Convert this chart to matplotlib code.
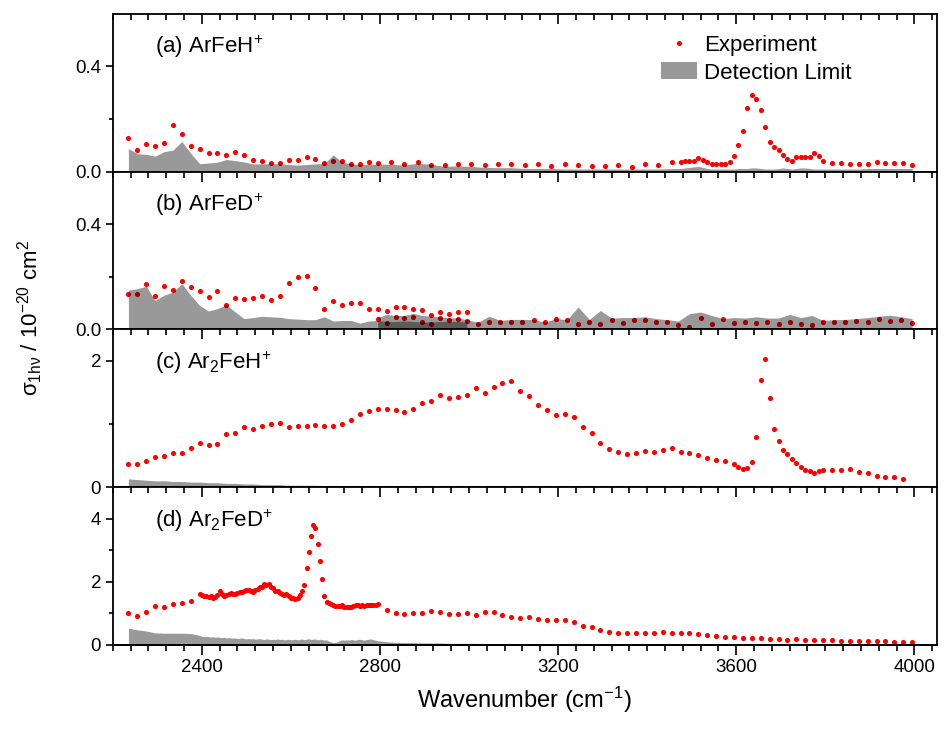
import numpy as np
import matplotlib
matplotlib.use("Agg")
import matplotlib.pyplot as plt
from matplotlib.ticker import MultipleLocator, FixedLocator
from matplotlib.lines import Line2D
from matplotlib.patches import Patch

plt.rcParams['font.family'] = ['Liberation Sans', 'DejaVu Sans']
plt.rcParams['mathtext.fontset'] = 'custom'
plt.rcParams['mathtext.rm'] = 'Liberation Sans'
plt.rcParams['mathtext.it'] = 'Liberation Sans'

# ---------------- (a) ArFeH+ ----------------
a_wn = np.concatenate([np.arange(2235, 2796, 20), np.arange(2825, 3126, 30),
                       np.arange(3155, 3456, 30), np.arange(3475, 3786, 10),
                       np.arange(3795, 3996, 20)])
a_exp = [0.128, 0.081, 0.107, 0.096, 0.109, 0.178, 0.142, 0.096, 0.086, 0.071,
         0.070, 0.064, 0.076, 0.062, 0.046, 0.039, 0.034, 0.033, 0.046, 0.046,
         0.057, 0.048, 0.032, 0.042, 0.041, 0.028, 0.030, 0.037, 0.032,
         0.036, 0.028, 0.037, 0.027, 0.027, 0.028, 0.030, 0.025, 0.029, 0.028, 0.025,
         0.030, 0.023, 0.029, 0.027, 0.020, 0.020, 0.027, 0.019, 0.028, 0.025, 0.036,
         0.036, 0.041, 0.041, 0.042, 0.053, 0.046, 0.037, 0.028, 0.028, 0.028,
         0.029, 0.038, 0.061, 0.100, 0.156, 0.241, 0.291, 0.277, 0.236, 0.168,
         0.112, 0.095, 0.083, 0.064, 0.048, 0.042, 0.057, 0.057, 0.057, 0.057,
         0.072, 0.060,
         0.042, 0.032, 0.034, 0.030, 0.030, 0.029, 0.036, 0.034, 0.034, 0.034, 0.025]
a_dl = [0.088, 0.068, 0.066, 0.059, 0.076, 0.082, 0.115, 0.070, 0.030, 0.033,
        0.036, 0.046, 0.042, 0.037, 0.029, 0.030, 0.030, 0.030, 0.027, 0.025,
        0.027, 0.030, 0.030, 0.064, 0.036, 0.030, 0.027, 0.028, 0.029,
        0.028, 0.025, 0.032, 0.028, 0.020, 0.022, 0.020, 0.016, 0.015, 0.015, 0.012,
        0.012, 0.012, 0.010, 0.010, 0.010, 0.010, 0.010, 0.010, 0.010, 0.010, 0.012,
        0.012, 0.014, 0.016, 0.018, 0.020, 0.016, 0.012, 0.010, 0.010, 0.010,
        0.010, 0.010, 0.010, 0.012, 0.012, 0.012, 0.014, 0.014, 0.012, 0.010,
        0.010, 0.010, 0.012, 0.014, 0.012, 0.010, 0.012, 0.014, 0.014, 0.012,
        0.010, 0.010,
        0.010, 0.010, 0.010, 0.010, 0.010, 0.012, 0.012, 0.012, 0.012, 0.012, 0.012]

# ---------------- (b) ArFeD+ ----------------
b1_wn = np.arange(2235, 2996, 20)
b1_exp = [0.136, 0.133, 0.174, 0.126, 0.165, 0.149, 0.183, 0.161, 0.146, 0.123,
          0.146, 0.094, 0.119, 0.116, 0.121, 0.126, 0.110, 0.128, 0.175, 0.199,
          0.202, 0.156, 0.077, 0.107, 0.094, 0.100, 0.101, 0.077, 0.077, 0.071,
          0.084, 0.086, 0.079, 0.072, 0.056, 0.067, 0.057, 0.067, 0.065]
b1_dl = [0.149, 0.155, 0.164, 0.110, 0.130, 0.142, 0.174, 0.130, 0.091, 0.070,
         0.079, 0.094, 0.066, 0.041, 0.045, 0.050, 0.048, 0.046, 0.041, 0.039,
         0.037, 0.037, 0.048, 0.032, 0.034, 0.034, 0.024, 0.032, 0.034, 0.030,
         0.030, 0.032, 0.030, 0.028, 0.028, 0.030, 0.030, 0.030, 0.028]
b2_wn = np.concatenate([np.arange(2795, 2996, 20), np.arange(3020, 3996, 25)])
b2_exp = [0.038, 0.024, 0.046, 0.045, 0.046, 0.028, 0.020, 0.042, 0.036, 0.041, 0.033,
          0.022, 0.027, 0.028, 0.030, 0.029,
          0.034, 0.028, 0.039, 0.034, 0.020, 0.029, 0.022, 0.034, 0.025, 0.034,
          0.034, 0.030, 0.027, 0.015, 0.011, 0.044, 0.019, 0.038, 0.025, 0.027,
          0.025, 0.027, 0.019, 0.028, 0.022, 0.015, 0.029, 0.027, 0.029, 0.033,
          0.030, 0.039, 0.031, 0.034, 0.025]
b2_dl = [0.045, 0.057, 0.053, 0.053, 0.061, 0.053, 0.050, 0.048, 0.044, 0.044, 0.037,
         0.027, 0.050, 0.034, 0.038, 0.038,
         0.037, 0.028, 0.041, 0.037, 0.085, 0.038, 0.072, 0.043, 0.045, 0.045,
         0.048, 0.041, 0.037, 0.032, 0.060, 0.066, 0.053, 0.041, 0.045, 0.043,
         0.048, 0.043, 0.043, 0.057, 0.045, 0.053, 0.034, 0.037, 0.038, 0.041,
         0.045, 0.050, 0.054, 0.048, 0.041]

# ---------------- (c) Ar2FeH+ ----------------
c_wn = np.concatenate([np.arange(2235, 3576, 20), np.arange(3595, 3796, 10),
                       np.arange(3815, 3976, 20)])
c_exp = [0.363, 0.368, 0.421, 0.484, 0.495, 0.542, 0.547, 0.621, 0.695, 0.663,
         0.690, 0.837, 0.863, 0.953, 0.921, 0.974, 1.006, 1.011, 0.948, 0.969,
         0.974, 0.990, 0.963, 0.974, 0.995, 1.069, 1.158, 1.211, 1.237, 1.232,
         1.226, 1.190, 1.237, 1.337, 1.358, 1.459, 1.411, 1.432, 1.459, 1.564,
         1.485, 1.585, 1.653, 1.680, 1.527, 1.437,
         1.301, 1.227, 1.148, 1.158, 1.111, 0.958, 0.863, 0.695, 0.600, 0.558,
         0.521, 0.547, 0.568, 0.563, 0.595, 0.616, 0.553, 0.537, 0.511, 0.458,
         0.432, 0.416,
         0.368, 0.321, 0.295, 0.311, 0.405, 0.790, 1.695, 2.027, 1.411, 0.916,
         0.727, 0.595, 0.532, 0.447, 0.379, 0.321, 0.274, 0.248, 0.232, 0.253, 0.268,
         0.268, 0.274, 0.295, 0.237, 0.221, 0.174, 0.158, 0.153, 0.137]
c_dl = [0.13, 0.12, 0.11, 0.10, 0.10, 0.09, 0.09, 0.08, 0.08, 0.07,
        0.07, 0.06, 0.06, 0.05, 0.05, 0.04, 0.04, 0.04, 0.03, 0.03,
        0.03, 0.03, 0.02, 0.02, 0.02, 0.02, 0.02, 0.02, 0.02, 0.02,
        0.02, 0.02, 0.01, 0.01, 0.01, 0.01, 0.01, 0.01, 0.01, 0.01,
        0.01, 0.01, 0.01, 0.01, 0.01, 0.01,
        0.01, 0.01, 0.01, 0.01, 0.01, 0.01, 0.01, 0.01, 0.01, 0.01,
        0.01, 0.01, 0.01, 0.01, 0.01, 0.01, 0.01, 0.01, 0.01, 0.01, 0.01, 0.01,
        0.01, 0.01, 0.01, 0.01, 0.01, 0.01, 0.01, 0.01, 0.01, 0.01,
        0.01, 0.01, 0.01, 0.01, 0.01, 0.01, 0.01, 0.01, 0.01, 0.01, 0.01,
        0.01, 0.01, 0.01, 0.01, 0.01, 0.01, 0.01, 0.01, 0.01]

# ---------------- (d) Ar2FeD+ ----------------
d_wn = np.concatenate([np.arange(2235, 2376, 20), np.arange(2395, 2796, 5),
                       np.arange(2815, 3996, 20)])
d_exp = [1.023, 0.928, 1.034, 1.245, 1.203, 1.297, 1.340, 1.392,
         # dense scan 2395-2795
         1.61, 1.58, 1.56, 1.54, 1.53, 1.55, 1.50, 1.53, 1.58, 1.70, 1.60,
         1.56, 1.58, 1.62, 1.64, 1.62, 1.60, 1.66, 1.67, 1.68, 1.72, 1.75,
         1.73, 1.70, 1.69, 1.73, 1.76, 1.82, 1.85, 1.93, 1.90, 1.93, 1.83,
         1.79, 1.72, 1.70, 1.64, 1.60, 1.58, 1.61, 1.55, 1.50, 1.48, 1.46,
         1.50, 1.58, 1.72, 1.90, 2.45, 2.95, 3.45, 3.80, 3.72, 3.20, 2.65,
         2.10, 1.55, 1.37, 1.32, 1.29, 1.25, 1.24, 1.23, 1.22, 1.25, 1.21,
         1.20, 1.21, 1.19, 1.24, 1.26, 1.28, 1.24, 1.25, 1.22, 1.25, 1.28,
         1.27, 1.28, 1.27, 1.29,
         1.108, 1.023, 0.981, 1.023, 1.023, 1.087, 1.034, 0.981, 0.981, 1.002,
         0.939, 1.044, 1.044, 0.960, 0.886, 0.865, 0.886,
         0.833, 0.780, 0.780, 0.780, 0.717, 0.612, 0.570, 0.475, 0.422, 0.390,
         0.369, 0.390, 0.369, 0.369, 0.401, 0.369, 0.369, 0.369, 0.348, 0.306,
         0.285, 0.253, 0.264, 0.232, 0.232, 0.232, 0.190, 0.190, 0.169, 0.179,
         0.158, 0.148, 0.148, 0.148, 0.137, 0.127, 0.127, 0.116, 0.116, 0.127,
         0.105, 0.105, 0.105]
d_dl = [0.53, 0.48, 0.44, 0.38, 0.37, 0.37, 0.37, 0.36,
        0.30, 0.27, 0.26, 0.27, 0.26, 0.25, 0.26, 0.24, 0.25, 0.24, 0.23,
        0.24, 0.22, 0.23, 0.22, 0.21, 0.22, 0.20, 0.21, 0.22, 0.20, 0.19,
        0.20, 0.19, 0.20, 0.18, 0.19, 0.20, 0.18, 0.17, 0.19, 0.18, 0.17,
        0.18, 0.17, 0.19, 0.17, 0.18, 0.16, 0.17, 0.18, 0.16, 0.17, 0.18,
        0.16, 0.17, 0.19, 0.16, 0.18, 0.20, 0.17, 0.18, 0.19, 0.16, 0.18,
        0.17, 0.15, 0.16, 0.12, 0.09, 0.07, 0.08, 0.10, 0.14, 0.16, 0.15,
        0.16, 0.15, 0.17, 0.16, 0.15, 0.17, 0.18, 0.16, 0.15, 0.17, 0.18,
        0.19, 0.16, 0.15, 0.13,
        0.10, 0.08, 0.07, 0.07, 0.06, 0.06, 0.06, 0.05, 0.05, 0.05,
        0.05, 0.04, 0.04, 0.04, 0.04, 0.04, 0.04,
        0.04, 0.04, 0.04, 0.04, 0.04, 0.03, 0.03, 0.03, 0.03, 0.03,
        0.03, 0.03, 0.03, 0.03, 0.03, 0.03, 0.03, 0.03, 0.03, 0.03,
        0.03, 0.03, 0.03, 0.03, 0.03, 0.02, 0.02, 0.02, 0.02, 0.02,
        0.02, 0.02, 0.02, 0.02, 0.02, 0.02, 0.02, 0.02, 0.02, 0.02,
        0.02, 0.02, 0.02]

panel_labels = [r"(a) ArFe$\mathregular{H^{\!+}}$", r"(b) ArFe$\mathregular{D^{\!+}}$",
                r"(c) $\mathregular{Ar_2}$Fe$\mathregular{H^{\!+}}$",
                r"(d) $\mathregular{Ar_2}$Fe$\mathregular{D^{\!+}}$"]
panel_ylims = [(0, 0.6), (0, 0.6), (0, 2.5), (0, 5.0)]
panel_major = [[0.0, 0.4], [0.0, 0.4], [0, 2], [0, 2, 4]]
panel_minor = [[0.2], [0.2], [1], [1, 3]]
panel_fmt = ["{:.1f}", "{:.1f}", "{:d}", "{:d}"]
x_major = [2400, 2800, 3200, 3600, 4000]

RED = '#ff0000'
DL_COLOR = 'black'
DL_ALPHA = 0.4

panels = [
    [(a_wn, a_exp, a_dl)],
    [(b1_wn, b1_exp, b1_dl), (b2_wn, b2_exp, b2_dl)],
    [(c_wn, c_exp, c_dl)],
    [(d_wn, d_exp, d_dl)],
]

fig = plt.figure(figsize=(9.48, 7.32), dpi=100)
gs = fig.add_gridspec(4, 1, left=0.119, right=0.988, top=0.981, bottom=0.119, hspace=0)
axes = [fig.add_subplot(gs[i]) for i in range(4)]

for i, ax in enumerate(axes):
    for wn, exp, dl in panels[i]:
        ax.plot(wn, exp, 'o', color=RED, ms=3.7, mec='none', zorder=2)
        ax.fill_between(wn, 0, dl, color=DL_COLOR, alpha=DL_ALPHA, lw=0, zorder=3)
    ax.set_xlim(2200, 4050)
    ax.set_ylim(*panel_ylims[i])
    ax.xaxis.set_major_locator(FixedLocator(x_major))
    ax.xaxis.set_minor_locator(MultipleLocator(40))
    ax.yaxis.set_major_locator(FixedLocator(panel_major[i]))
    ax.yaxis.set_minor_locator(FixedLocator(panel_minor[i]))
    ax.set_yticklabels([panel_fmt[i].format(v) for v in panel_major[i]])
    ax.tick_params(axis='x', which='both', direction='in', top=True, bottom=False,
                   labelbottom=False, labeltop=False, width=1.2)
    ax.tick_params(axis='x', which='major', length=7)
    ax.tick_params(axis='x', which='minor', length=4)
    ax.tick_params(axis='y', which='both', direction='out', right=False, width=1.2,
                   labelsize=13.5)
    ax.tick_params(axis='y', which='major', length=5)
    ax.tick_params(axis='y', which='minor', length=3)
    for sp in ax.spines.values():
        sp.set_linewidth(1.3)
    ax.text(0.051, 0.79, panel_labels[i], transform=ax.transAxes, fontsize=16,
            ha='left', va='center')

# bottom axis with outward ticks for the last panel
sec = axes[3].secondary_xaxis('bottom')
sec.xaxis.set_major_locator(FixedLocator(x_major))
sec.xaxis.set_minor_locator(MultipleLocator(40))
sec.set_xticklabels([str(v) for v in x_major])
sec.tick_params(which='both', direction='out', width=1.2, labelsize=13.5)
sec.tick_params(which='major', length=7)
sec.tick_params(which='minor', length=4)
sec.spines['bottom'].set_linewidth(1.3)
sec.set_xlabel(r"Wavenumber (cm$\mathregular{^{-1}}$)", fontsize=17, labelpad=6)

fig.text(0.032, 0.565, "σ$\\mathregular{_{1h\u03bd}}$ / 10$\\mathregular{^{-20}}$ cm$\\mathregular{^2}$",
         rotation=90, ha='center', va='center', fontsize=16)

handles = [Line2D([], [], ls='none', marker='o', color=RED, ms=3.7, mec='none'),
           Patch(facecolor=DL_COLOR, alpha=DL_ALPHA, lw=0)]
axes[0].legend(handles, ["Experiment", "Detection Limit"], loc='upper left',
               bbox_to_anchor=(0.666, 0.87), frameon=False, fontsize=16,
               borderpad=0, borderaxespad=0, handlelength=1.6, handleheight=0.8,
               handletextpad=0.3, labelspacing=0.3)

fig.savefig("out.png", dpi=100)
